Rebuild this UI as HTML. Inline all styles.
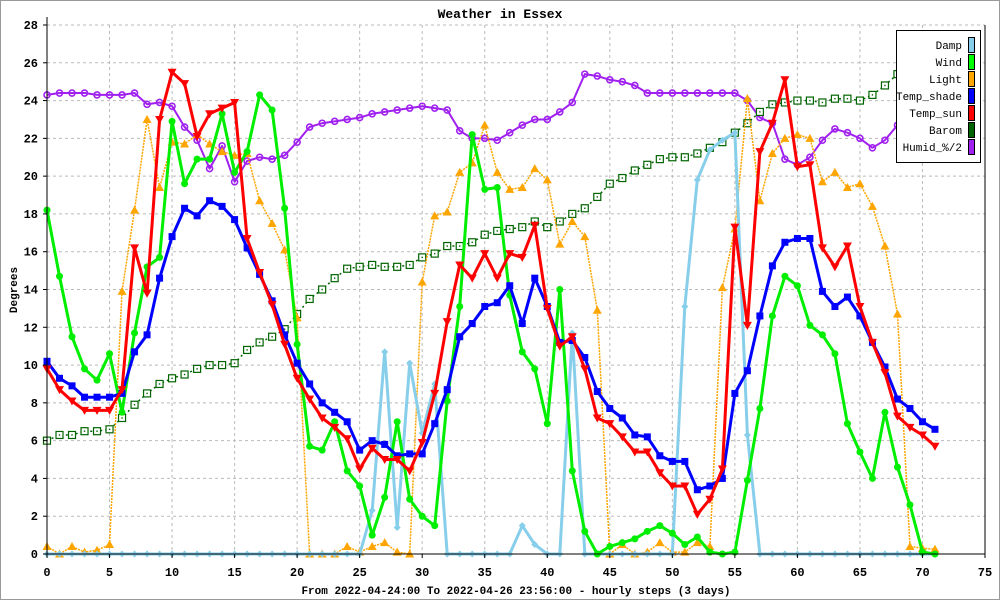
<!DOCTYPE html>
<html><head><meta charset="utf-8"><style>
html,body{margin:0;padding:0;background:#fff}
svg{display:block}
text{font-family:"Liberation Mono",monospace}
</style></head><body>
<svg id="chart" width="1000" height="600" viewBox="0 0 1000 600" xmlns="http://www.w3.org/2000/svg">
<rect x="0.5" y="0.5" width="999" height="599" fill="#fff" stroke="#999" stroke-width="1"/>
<text x="500" y="18" text-anchor="middle" font-size="13" font-weight="bold">Weather in Essex</text>
<text transform="translate(17,290) rotate(-90)" text-anchor="middle" font-size="11" font-weight="bold">Degrees</text>
<text x="516" y="594" text-anchor="middle" font-size="11" font-weight="bold">From 2022-04-24:00 To 2022-04-26 23:56:00 - hourly steps (3 days)</text>
<g id="grid"></g>
<g id="series"></g>
<g id="axes"></g>
<g id="legend"></g>
</svg>
<script>
const xTicks = [0,5,10,15,20,25,30,35,40,45,50,55,60,65,70,75];
const yTicks = [0,2,4,6,8,10,12,14,16,18,20,22,24,26,28];
const damp = [0,0,0,0,0,0,0,0,0,0, 0,0,0,0,0,0,0,0,0,0, 0,0,0,0,0,0,2.3,10.7,1.4,10.1, 6.4,9.0,0,0,0,0,0,0,1.5,0.5, 0,0,11.7,0,0,0,0,0,0,0, 0,13.1,19.8,21.4,21.9,22.3,6.3,0,0,0, 0,0,0,0,0,0,0,0,0,0, 0,0];
const wind = [18.2,14.7,11.5,9.8,9.2,10.6,7.5,11.7,15.2,15.7, 22.9,19.6,20.9,20.9,23.3,20.2,21.3,24.3,23.5,18.3, 11.1,5.7,5.5,7.0,4.4,3.6,1.0,3.0,7.0,2.9, 2.0,1.5,8.1,13.1,22.2,19.3,19.4,13.7,10.7,9.8, 6.9,14.0,4.4,1.2,0,0.4,0.6,0.8,1.2,1.5, 1.1,0.5,0.9,0.1,0,0.1,3.9,7.7,12.6,14.7, 14.2,12.1,11.6,10.6,6.9,5.4,4.0,7.5,4.6,2.6, 0.1,0];
const light = [0.4,0,0.4,0.1,0.2,0.5,13.9,18.2,23.0,19.4, 21.8,21.7,22.2,21.7,21.3,21.1,21.2,18.7,17.5,16.1, 12.5,0,0,0,0.4,0.1,0.4,0.6,0.1,0, 14.4,17.9,18.1,20.2,20.7,22.7,20.2,19.3,19.4,20.4, 19.8,16.4,17.6,16.8,12.9,0,0.5,0,0.1,0.6, 0.1,0.1,0.6,0.4,14.1,17.2,24.1,18.7,21.2,22.0, 22.2,22.0,19.7,20.2,19.4,19.6,18.4,16.3,12.7,0.4, 0.3,0.25];
const tempShade = [10.2,9.3,8.9,8.3,8.3,8.3,8.5,10.7,11.6,14.6, 16.8,18.3,17.9,18.7,18.4,17.7,16.2,14.8,13.4,11.6, 10.1,9.0,8.0,7.5,7.0,5.5,6.0,5.8,5.2,5.3, 5.3,6.9,8.7,11.5,12.2,13.1,13.3,14.2,12.2,14.6, 13.1,11.2,11.3,10.4,8.6,7.7,7.2,6.3,6.2,5.2, 4.9,4.9,3.4,3.6,4.0,8.5,9.7,12.6,15.25,16.5, 16.7,16.7,13.9,13.1,13.6,12.6,11.2,9.9,8.2,7.7, 7.0,6.6];
const tempSun = [9.8,8.7,8.1,7.6,7.6,7.6,8.7,16.2,13.8,23.0, 25.5,24.9,22.1,23.3,23.6,23.9,16.7,14.9,13.2,11.1, 9.3,8.2,7.2,6.7,6.1,4.5,5.6,5.0,5.0,4.4, 5.9,8.5,12.3,15.3,14.6,15.9,14.6,15.9,15.7,17.4, 13.0,11.0,11.5,9.8,7.2,6.9,6.2,5.4,5.4,4.3, 3.6,3.6,2.1,2.9,4.5,17.3,12.1,21.3,22.8,25.1, 20.5,20.6,16.2,15.2,16.3,13.1,11.2,9.6,7.3,6.7, 6.3,5.7];
const barom = [6.0,6.3,6.3,6.5,6.5,6.6,7.2,7.9,8.5,9.0, 9.3,9.5,9.8,10.0,10.0,10.1,10.8,11.2,11.5,11.9, 12.7,13.5,14.0,14.6,15.1,15.2,15.3,15.2,15.2,15.3, 15.7,15.9,16.3,16.3,16.5,16.9,17.1,17.2,17.3,17.6, 17.3,17.6,18.0,18.3,18.9,19.6,19.9,20.3,20.6,20.9, 21.0,21.0,21.2,21.5,21.8,22.3,22.8,23.4,23.8,23.9, 24.0,24.0,23.9,24.1,24.1,24.0,24.3,24.8,25.4,26.0, 26.5,27.0];
const humid = [24.3,24.4,24.4,24.4,24.3,24.3,24.3,24.4,23.8,23.9, 23.7,22.6,21.9,20.4,21.6,19.7,20.8,21.0,20.9,21.1, 21.8,22.6,22.8,22.9,23.0,23.1,23.3,23.4,23.5,23.6, 23.7,23.6,23.5,22.4,22.0,22.0,21.9,22.3,22.7,23.0, 23.0,23.4,23.9,25.4,25.3,25.1,25.0,24.8,24.4,24.4, 24.4,24.4,24.4,24.4,24.4,24.4,24.0,23.1,22.8,20.9, 20.6,21.0,21.9,22.5,22.3,22.0,21.5,21.9,22.7,23.3, 23.8,24.2];
const legendLabels = ["Damp","Wind","Light","Temp_shade","Temp_sun","Barom","Humid_%/2"];

const NS="http://www.w3.org/2000/svg";
const X0=47,X1=985,Y0=554,Y1=25;
function xs(v){return X0+(v-0)*(X1-X0)/75;}
function ys(v){return Y0-(v-0)*(Y0-Y1)/28;}
function mk(tag,attrs,parent){const e=document.createElementNS(NS,tag);for(const k in attrs)e.setAttribute(k,attrs[k]);parent.appendChild(e);return e;}

const grid=document.getElementById('grid');
xTicks.forEach(t=>{if(t>0&&t<75){const l=mk('line',{x1:xs(t),x2:xs(t),y1:Y1,y2:Y0,stroke:'#bbb','stroke-dasharray':'3,3'},grid);

}});
yTicks.forEach(t=>{if(t>0){const l=mk('line',{x1:X0,x2:X1,y1:ys(t),y2:ys(t),stroke:'#bbb','stroke-dasharray':'3,3'},grid);

}});

const axes=document.getElementById('axes');
let a=mk('line',{x1:X0,x2:X0,y1:Y1-8,y2:Y0,stroke:'#000'},axes);


a=mk('line',{x1:X0,x2:X1,y1:Y0,y2:Y0,stroke:'#000'},axes);


a=mk('line',{x1:X1,x2:X1,y1:Y1,y2:Y0,stroke:'#000'},axes);


xTicks.forEach(t=>{mk('line',{x1:xs(t),x2:xs(t),y1:Y0,y2:Y0+4,stroke:'#000'},axes);
const tx=mk('text',{x:xs(t),y:Y0+22,'text-anchor':'middle','font-size':'12','font-weight':'bold'},axes);tx.textContent=t;

});
yTicks.forEach(t=>{mk('line',{x1:X0-4,x2:X0,y1:ys(t),y2:ys(t),stroke:'#000'},axes);
const tx=mk('text',{x:X0-9,y:ys(t)+4,'text-anchor':'end','font-size':'12','font-weight':'bold'},axes);tx.textContent=t;

});

const ser=document.getElementById('series');
function marker(g,shape,x,y,color){
  let m;
  if(shape==='circle') m=mk('circle',{cx:x,cy:y,r:3.5,fill:color},g);
  else if(shape==='square') m=mk('rect',{x:x-3.5,y:y-3.5,width:7,height:7,fill:color},g);
  else if(shape==='tri') m=mk('path',{d:`M${x},${y-4.5}L${x+4.5},${y+3.5}L${x-4.5},${y+3.5}Z`,fill:color},g);
  else if(shape==='tridown') m=mk('path',{d:`M${x},${y+4.5}L${x+4.5},${y-3.5}L${x-4.5},${y-3.5}Z`,fill:color},g);
  else if(shape==='diamond') m=mk('path',{d:`M${x},${y-3.5}L${x+3.5},${y}L${x},${y+3.5}L${x-3.5},${y}Z`,fill:color},g);
  else if(shape==='opensq'){m=mk('rect',{x:x-3.5,y:y-3.5,width:7,height:7,fill:'#fff',stroke:color,'stroke-width':1.2},g);mk('rect',{x:x-0.7,y:y-0.7,width:1.4,height:1.4,fill:color},g);}
  else if(shape==='opencirc') m=mk('circle',{cx:x,cy:y,r:3,fill:'none',stroke:color,'stroke-width':1.6},g);
  
  
}
function drawSeries(name,data,color,width,dash,shape){
  const g=mk('g',{},ser);
  
  
  const pts=data.map((v,i)=>xs(i).toFixed(1)+','+ys(v).toFixed(1)).join(' ');
  const p=mk('polyline',{points:pts,fill:'none',stroke:color,'stroke-width':width,'stroke-linejoin':'round'},g);
  if(dash)p.setAttribute('stroke-dasharray',dash);
  
  
  data.forEach((v,i)=>marker(g,shape,xs(i),ys(v),color));
}
drawSeries('humid',humid,'#a020f0',2,null,'opencirc');
drawSeries('barom',barom,'#006400',1.5,'2,3','opensq');
drawSeries('light',light,'#ffa500',1.5,'2,1','tri');
drawSeries('damp',damp,'#87ceeb',3,null,'diamond');
drawSeries('wind',wind,'#00ee00',3,null,'circle');
drawSeries('temp-shade',tempShade,'#0000ff',3,null,'square');
drawSeries('temp-sun',tempSun,'#ff0000',3,null,'tridown');

const colors=['#87ceeb','#00ff00','#ffa500','#0000ff','#ff0000','#006400','#a020f0'];
const lg=document.getElementById('legend');
const box=mk('rect',{x:896.5,y:30.5,width:84,height:132,fill:'#fff',stroke:'#000'},lg);


legendLabels.forEach((lab,i)=>{
  const y=45+i*17;
  const t=mk('text',{x:962,y:y+4,'text-anchor':'end','font-size':'11'},lg);t.textContent=lab;
  
  
  const s=mk('rect',{x:968.5,y:y-7.5,width:6,height:15,fill:colors[i],stroke:'#000'},lg);
  
  
});
</script>
</body></html>
